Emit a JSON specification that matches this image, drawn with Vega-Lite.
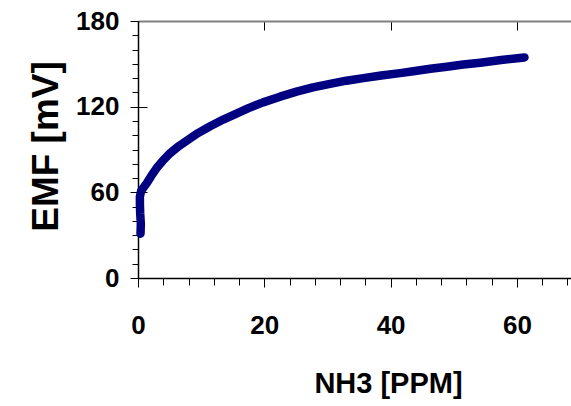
{
  "$schema": "https://vega.github.io/schema/vega-lite/v6.json",
  "width": 433,
  "height": 257,
  "autosize": {"type": "none"},
  "padding": {"left": 138, "top": 21, "right": 0, "bottom": 128},
  "background": "white",
  "config": {"view": {"stroke": null}},
  "data": {
    "values": [
      {"order": 1, "ppm": 0.4, "emf": 31},
      {"order": 2, "ppm": 0.45, "emf": 38},
      {"order": 3, "ppm": 0.35, "emf": 45},
      {"order": 4, "ppm": 0.3, "emf": 52},
      {"order": 5, "ppm": 0.3, "emf": 57},
      {"order": 6, "ppm": 0.5, "emf": 61},
      {"order": 7, "ppm": 0.9, "emf": 63.5},
      {"order": 8, "ppm": 1.4, "emf": 66.5},
      {"order": 9, "ppm": 2.1, "emf": 71.5},
      {"order": 10, "ppm": 2.95, "emf": 77},
      {"order": 11, "ppm": 3.9, "emf": 82},
      {"order": 12, "ppm": 5.1, "emf": 87.5},
      {"order": 13, "ppm": 6.5, "emf": 92.5},
      {"order": 14, "ppm": 8, "emf": 97},
      {"order": 15, "ppm": 9.5, "emf": 101.5},
      {"order": 16, "ppm": 11.5, "emf": 106.5},
      {"order": 17, "ppm": 13.5, "emf": 111},
      {"order": 18, "ppm": 15.5, "emf": 115},
      {"order": 19, "ppm": 17.5, "emf": 119},
      {"order": 20, "ppm": 19.8, "emf": 123},
      {"order": 21, "ppm": 22.5, "emf": 127},
      {"order": 22, "ppm": 25.1, "emf": 130.5},
      {"order": 23, "ppm": 27.7, "emf": 133.5},
      {"order": 24, "ppm": 30.4, "emf": 136},
      {"order": 25, "ppm": 33, "emf": 138.2},
      {"order": 26, "ppm": 35.7, "emf": 140},
      {"order": 27, "ppm": 38.5, "emf": 141.8},
      {"order": 28, "ppm": 41.5, "emf": 143.5},
      {"order": 29, "ppm": 43.6, "emf": 144.8},
      {"order": 30, "ppm": 46.3, "emf": 146.5},
      {"order": 31, "ppm": 48.9, "emf": 148},
      {"order": 32, "ppm": 51.5, "emf": 149.5},
      {"order": 33, "ppm": 54.2, "emf": 150.8},
      {"order": 34, "ppm": 57.5, "emf": 152.7},
      {"order": 35, "ppm": 61.2, "emf": 154.5}
    ]
  },
  "mark": {"type": "line", "color": "#000080", "strokeWidth": 8.5, "strokeCap": "round", "strokeJoin": "round"},
  "encoding": {
    "order": {"field": "order", "type": "quantitative"},
    "x": {
      "field": "ppm",
      "type": "quantitative",
      "scale": {"domain": [0, 68.57], "nice": false, "zero": true},
      "axis": {
        "title": "NH3 [PPM]",
        "values": [0, 4, 8, 12, 16, 20, 24, 28, 32, 36, 40, 44, 48, 52, 56, 60, 64, 68],
        "labelExpr": "datum.value % 20 === 0 ? datum.label : ''",
        "labelOverlap": false,
        "labelFlush": false,
        "grid": true,
        "gridColor": "#000000",
        "gridWidth": 1,
        "gridDash": [9, 2000],
        "gridOpacity": {"condition": {"test": "datum.value % 20 === 0", "value": 1}, "value": 0},
        "domainColor": "#000000",
        "domainWidth": 1.5,
        "tickColor": "#000000",
        "tickWidth": 1,
        "tickSize": {"condition": {"test": "datum.value % 20 === 0", "value": 9}, "value": 7},
        "labelPadding": 46,
        "labelBaseline": "alphabetic",
        "labelFont": "'Liberation Sans', Arial, sans-serif",
        "labelFontSize": 26,
        "labelFontWeight": "bold",
        "labelColor": "#000000",
        "titleFont": "'Liberation Sans', Arial, sans-serif",
        "titleFontSize": 29,
        "titleFontWeight": "bold",
        "titleColor": "#000000",
        "titleX": 250,
        "titleY": 114,
        "titleAlign": "center",
        "titleBaseline": "alphabetic"
      }
    },
    "y": {
      "field": "emf",
      "type": "quantitative",
      "scale": {"domain": [0, 180], "nice": false},
      "axis": {
        "title": "EMF [mV]",
        "values": [0, 10, 20, 30, 40, 50, 60, 70, 80, 90, 100, 110, 120, 130, 140, 150, 160, 170, 180],
        "labelExpr": "datum.value % 60 === 0 ? datum.label : ''",
        "labelOverlap": false,
        "labelFlush": false,
        "grid": true,
        "gridColor": {"condition": {"test": "datum.value === 180", "value": "#808080"}, "value": "#000000"},
        "gridWidth": {"condition": {"test": "datum.value === 180", "value": 2}, "value": 1},
        "gridDash": {"condition": {"test": "datum.value === 180", "value": []}, "value": [9, 2000]},
        "gridOpacity": {"condition": {"test": "datum.value % 60 === 0", "value": 1}, "value": 0},
        "domainColor": "#000000",
        "domainWidth": 1.5,
        "tickColor": "#000000",
        "tickWidth": 1,
        "tickSize": {"condition": {"test": "datum.value % 60 === 0", "value": 8}, "value": 6},
        "labelPadding": 11,
        "labelBaseline": "middle",
        "labelFont": "'Liberation Sans', Arial, sans-serif",
        "labelFontSize": 26,
        "labelFontWeight": "bold",
        "labelColor": "#000000",
        "titleFont": "'Liberation Sans', Arial, sans-serif",
        "titleFontSize": 37,
        "titleFontWeight": "bold",
        "titleColor": "#000000",
        "titleAngle": -90,
        "titleX": -81,
        "titleY": 125,
        "titleAlign": "center",
        "titleBaseline": "alphabetic"
      }
    }
  }
}
